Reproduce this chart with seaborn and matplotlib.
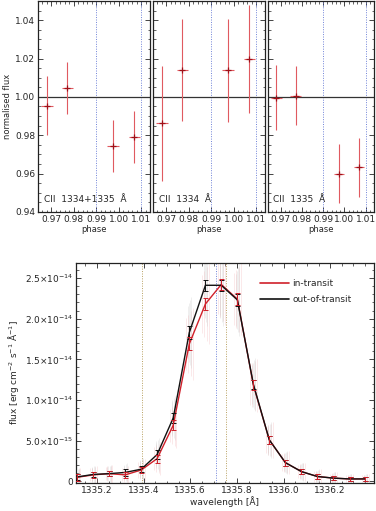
import numpy as np
import pandas as pd
import seaborn as sns
import matplotlib.pyplot as plt
from matplotlib.ticker import MultipleLocator, FuncFormatter

# phase-resolved normalised flux (3 line windows)
phase = [0.968, 0.977, 0.9975, 1.0070]
phase_err = 0.0025
panel_titles = ['CII  1334+1335  Å', 'CII  1334  Å', 'CII  1335  Å']
flux_1334_1335 = [0.9955, 1.0045, 0.9745, 0.9790]
err_1334_1335 = [0.0155, 0.0135, 0.0135, 0.0135]
flux_1334 = [0.9862, 1.0140, 1.0138, 1.0198]
err_1334 = [0.0300, 0.0265, 0.0270, 0.0280]
flux_1335 = [0.9995, 1.0007, 0.9600, 0.9634]
err_1335 = [0.0170, 0.0155, 0.0155, 0.0154]

# spectrum around CII 1335 (units of 1e-15)
wave = [1335.115, 1335.184, 1335.252, 1335.321, 1335.390, 1335.458, 1335.527,
        1335.596, 1335.665, 1335.733, 1335.802, 1335.871, 1335.939, 1336.008,
        1336.077, 1336.145, 1336.214, 1336.283, 1336.351]
flux_out = [0.55, 0.85, 0.95, 1.1, 1.5, 3.3, 7.8, 18.3, 24.1, 24.1, 22.3, 11.9,
            5.1, 2.3, 1.2, 0.6, 0.4, 0.3, 0.3]
flux_in = [0.5, 0.8, 0.95, 0.8, 1.4, 2.8, 6.9, 16.9, 21.8, 24.2, 22.4, 11.8,
           5.1, 2.3, 1.2, 0.6, 0.4, 0.3, 0.3]
err_out = [0.4, 0.35, 0.35, 0.4, 0.4, 0.5, 0.6, 0.8, 0.7, 0.7, 0.7, 0.6,
           0.5, 0.35, 0.3, 0.25, 0.2, 0.2, 0.2]
err_in = [0.4, 0.35, 0.35, 0.4, 0.4, 0.5, 0.6, 0.8, 0.7, 0.7, 0.7, 0.6,
          0.5, 0.35, 0.3, 0.25, 0.2, 0.2, 0.2]
# spread of the individual exposures (faint bars)
spread = [1.0, 1.0, 1.0, 1.0, 1.2, 1.8, 2.5, 4.0, 4.5, 4.5, 4.0, 3.0,
          2.0, 1.3, 1.0, 0.8, 0.7, 0.6, 0.6]
jitter = [-0.014, -0.007, 0.007, 0.014]
line_marks = [(1335.395, '#b8a060'), (1335.711, '#6f82d8'), (1335.754, '#b8a060')]

sns.set_theme(style='ticks')
plt.rcParams['font.family'] = ['DejaVu Sans']
plt.rcParams['xtick.direction'] = 'in'
plt.rcParams['ytick.direction'] = 'in'

fig = plt.figure(figsize=(3.76, 5.11), dpi=100)
red = '#d0202a'
fs = 6.5

boxes = [[38, 112], [153, 112], [268, 106]]
sets = [(flux_1334_1335, err_1334_1335), (flux_1334, err_1334), (flux_1335, err_1335)]
for i, ((x0, w), (fl, er)) in enumerate(zip(boxes, sets)):
    ax = fig.add_axes([x0 / 376, 1 - 212 / 511, w / 376, 211 / 511])
    ax.axhline(1.0, color='#333333', lw=0.9, zorder=2)
    for p in (0.99, 1.01):
        ax.axvline(p, color='#6f82d8', lw=0.7, ls=(0, (1, 1.5)), zorder=1)
    ax.errorbar(phase, fl, yerr=er, xerr=phase_err, fmt='none', ecolor='#e05a60',
                elinewidth=0.8, zorder=3)
    sns.scatterplot(x=phase, y=fl, ax=ax, color='#a01018', marker='+', s=14,
                    linewidth=0.9, zorder=4)
    ax.set_xlim(0.964, 1.014)
    ax.set_ylim(0.94, 1.05)
    ax.xaxis.set_major_locator(MultipleLocator(0.01))
    ax.xaxis.set_minor_locator(MultipleLocator(0.002))
    ax.yaxis.set_major_locator(MultipleLocator(0.02))
    ax.yaxis.set_minor_locator(MultipleLocator(0.005))
    ax.xaxis.set_major_formatter(FuncFormatter(lambda v, _: f'{v:.2f}'))
    ax.tick_params(which='both', top=True, right=True, labelsize=fs, pad=2)
    ax.tick_params(which='major', length=3.5, width=0.6)
    ax.tick_params(which='minor', length=1.8, width=0.5)
    ax.set_xticks([0.97, 0.98, 0.99, 1.00, 1.01])
    if i == 0:
        ax.set_ylabel('normalised flux', fontsize=6, labelpad=2)
        ax.yaxis.set_major_formatter(FuncFormatter(lambda v, _: f'{v:.2f}'))
    else:
        ax.set_yticklabels([])
    ax.set_xlabel('phase', fontsize=6, labelpad=1)
    ax.text(0.05, 0.04, panel_titles[i], transform=ax.transAxes, fontsize=6.5,
            va='bottom', ha='left')
    for s in ax.spines.values():
        s.set_linewidth(0.9)
        s.set_color('#222222')

# spectrum panel
ax = fig.add_axes([76 / 376, 1 - 483 / 511, 298 / 376, 220.5 / 511])
for xv, c in line_marks:
    ax.axvline(xv, color=c, lw=0.7, ls=(0, (1, 1.5)), zorder=1)
w = np.array(wave)
fo = np.array(flux_out)
fi = np.array(flux_in)
sp = np.array(spread)
for k, dx in enumerate(jitter):
    f = 0.8 + 0.1 * k
    ax.vlines(w + dx, fi - sp * f, fi + sp * f, color='#f0a8ac', lw=0.5, alpha=0.35, zorder=1)
    ax.vlines(w + dx / 2, fo - sp * f, fo + sp * f, color='#c8c8c8', lw=0.5, alpha=0.4, zorder=1)

df = pd.DataFrame({'wave': wave * 2, 'flux': flux_in + flux_out,
                   'set': ['in-transit'] * len(wave) + ['out-of-transit'] * len(wave)})
sns.lineplot(data=df, x='wave', y='flux', hue='set',
             palette={'in-transit': red, 'out-of-transit': '#111111'},
             lw=1.0, ax=ax, zorder=3)
ax.errorbar(wave, flux_out, yerr=err_out, fmt='none', ecolor='#111111',
            elinewidth=0.7, capsize=1.8, capthick=0.7, zorder=4)
ax.errorbar(wave, flux_in, yerr=err_in, fmt='none', ecolor=red,
            elinewidth=0.7, capsize=1.8, capthick=0.7, zorder=5)
ax.set_xlim(1335.11, 1336.388)
ax.set_ylim(-0.2, 26.9)
ax.xaxis.set_major_locator(MultipleLocator(0.2))
ax.xaxis.set_minor_locator(MultipleLocator(0.05))
ax.yaxis.set_major_locator(MultipleLocator(5))
ax.yaxis.set_minor_locator(MultipleLocator(1))
ax.xaxis.set_major_formatter(FuncFormatter(lambda v, _: f'{v:.1f}'))


def yfmt(v, _):
    if abs(v) < 1e-9:
        return '0'
    m = v / 10 if v >= 10 else v
    e = -14 if v >= 10 else -15
    return rf'${m:.1f}{{\times}}10^{{{e}}}$'


ax.yaxis.set_major_formatter(FuncFormatter(yfmt))
ax.tick_params(which='both', top=True, right=True, labelsize=fs, pad=2)
ax.tick_params(which='major', length=3.5, width=0.6)
ax.tick_params(which='minor', length=1.8, width=0.5)
ax.set_xlabel('wavelength [Å]', fontsize=6.5, labelpad=1)
ax.set_ylabel(r'flux [erg cm$^{-2}$ s$^{-1}$ Å$^{-1}$]', fontsize=6.5, labelpad=3)
for s in ax.spines.values():
    s.set_linewidth(0.9)
    s.set_color('#222222')
leg = ax.legend(loc='upper left', bbox_to_anchor=(0.59, 0.96), frameon=False,
                fontsize=6.5, handlelength=3.2, handletextpad=0.4, labelspacing=0.7,
                title=None)
for h in leg.get_lines():
    h.set_linewidth(1.2)

fig.savefig('out.png', dpi=100)
